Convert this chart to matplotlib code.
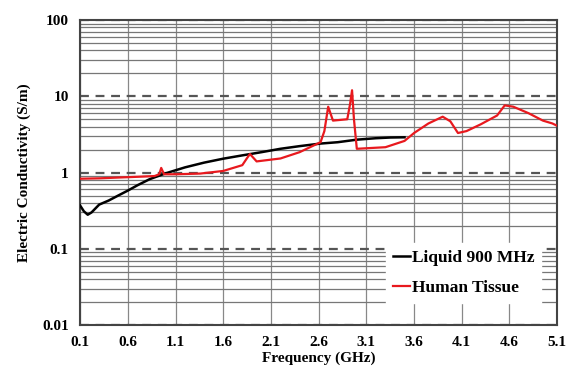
import numpy as np
import matplotlib.pyplot as plt
from matplotlib.ticker import FixedLocator, NullFormatter

plt.rcParams['font.family'] = ['Liberation Serif', 'DejaVu Serif']
plt.rcParams['font.weight'] = 'bold'

# Liquid 900 MHz
liq_f = [0.1, 0.14, 0.18, 0.22, 0.3, 0.4, 0.5, 0.6, 0.7, 0.83, 1.0, 1.2, 1.4,
         1.6, 1.8, 2.0, 2.2, 2.4, 2.62, 2.8, 3.0, 3.2, 3.35, 3.5]
liq_s = [0.37, 0.31, 0.28, 0.3, 0.38, 0.43, 0.5, 0.58, 0.68, 0.82, 0.98, 1.17, 1.35,
         1.52, 1.68, 1.85, 2.05, 2.22, 2.4, 2.5, 2.7, 2.82, 2.88, 2.9]

# Human tissue
hum_f = [0.1, 0.3, 0.5, 0.7, 0.88, 0.93, 0.95, 0.98, 1.1, 1.36, 1.6, 1.8, 1.85,
         1.88, 1.95, 2.2, 2.4, 2.62, 2.66, 2.7, 2.75, 2.9, 2.93, 2.95, 2.97,
         3.0, 3.3, 3.5, 3.6, 3.75, 3.9, 3.98, 4.06, 4.15, 4.3, 4.47, 4.55,
         4.64, 4.8, 4.95, 5.05, 5.1]
hum_s = [0.83, 0.84, 0.86, 0.88, 0.9, 0.95, 1.15, 0.95, 0.95, 0.97, 1.05, 1.25, 1.55,
         1.75, 1.4, 1.53, 1.85, 2.5, 3.5, 7.3, 4.8, 5.0, 8.0, 12.0, 5.0,
         2.05, 2.15, 2.6, 3.3, 4.4, 5.4, 4.7, 3.3, 3.5, 4.3, 5.6, 7.6,
         7.3, 6.0, 4.8, 4.4, 4.1]

xticks = [0.1, 0.6, 1.1, 1.6, 2.1, 2.6, 3.1, 3.6, 4.1, 4.6, 5.1]
yticks = [0.01, 0.1, 1, 10, 100]
ylabels = ['0.01', '0.1', '1', '10', '100']

fig = plt.figure(figsize=(5.68, 3.78), dpi=100)
ax = fig.add_axes([0.141, 0.14, 0.84, 0.807])

ax.plot(liq_f, liq_s, color='black', lw=1.8, label='Liquid 900 MHz', zorder=3)
ax.plot(hum_f, hum_s, color='#e8191e', lw=1.6, label='Human Tissue', zorder=4)

ax.set_yscale('log')
ax.set_xlim(0.1, 5.1)
ax.set_ylim(0.01, 100)
ax.set_xticks(xticks)
ax.set_xticklabels([str(t) for t in xticks])
ax.set_yticks(yticks)
ax.set_yticklabels(ylabels)
minor = [m * d for d in [0.01, 0.1, 1, 10] for m in range(2, 10)]
ax.yaxis.set_minor_locator(FixedLocator(minor))
ax.yaxis.set_minor_formatter(NullFormatter())

ax.grid(True, which='major', axis='y', color='#555555', ls=(0, (4, 3)), lw=1.6)
ax.grid(True, which='minor', axis='y', color='#777777', ls='-', lw=0.9)
ax.grid(True, which='major', axis='x', color='#888888', ls='-', lw=0.9)
ax.set_axisbelow(True)
ax.tick_params(which='both', length=0, labelsize=11, pad=8)

for s in ax.spines.values():
    s.set_color('#444444')
    s.set_linewidth(1.5)

ax.set_xlabel('Frequency (GHz)', fontsize=11, fontweight='bold', labelpad=2)
ax.set_ylabel('Electric Conductivity (S/m)', fontsize=11, fontweight='bold', labelpad=8)

leg = ax.legend(loc='lower right', bbox_to_anchor=(0.985, 0.045), frameon=True,
                fancybox=False, framealpha=1, edgecolor='white',
                handlelength=1.0, handletextpad=0.1, borderpad=0.4,
                labelspacing=0.8, prop={'weight': 'bold', 'size': 12.5})

fig.savefig('out.png', dpi=100)
